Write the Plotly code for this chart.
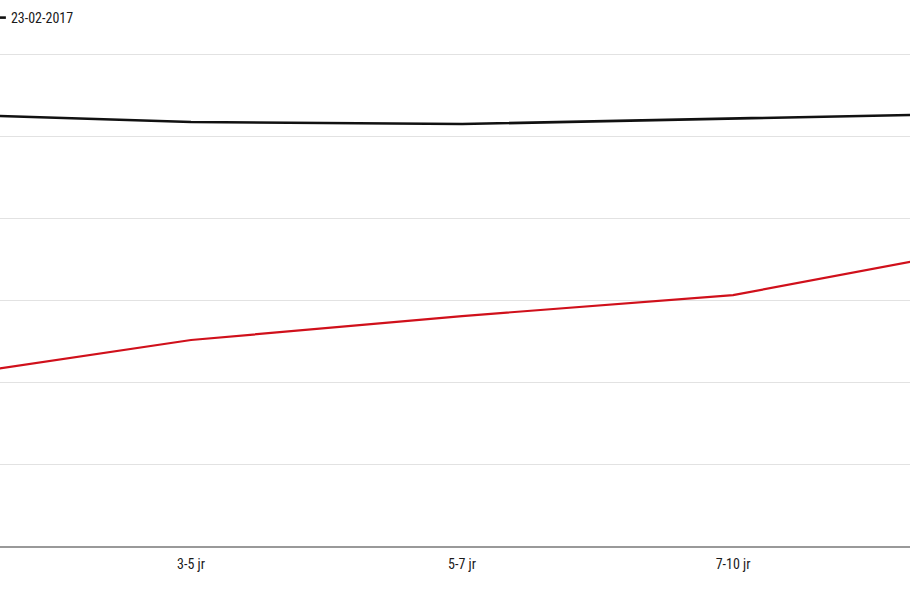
import plotly.graph_objects as go

categories = ["1-3 jr", "3-5 jr", "5-7 jr", "7-10 jr", "10+ jr"]
series_red = [1.01, 1.256, 1.402, 1.530, 1.84]
series_black = [2.638, 2.585, 2.573, 2.604, 2.640]
legend_label = "23-02-2017"
y_ticks = [0, 0.5, 1.0, 1.5, 2.0, 2.5, 3.0]

FONT = "Roboto Condensed, Liberation Sans Narrow, DejaVu Sans Condensed, Arial Narrow, sans-serif"

fig = go.Figure()
fig.add_trace(go.Scatter(
    x=categories, y=series_red, mode="lines", name="vorige",
    line=dict(color="#d0101b", width=2.2), showlegend=False,
))
fig.add_trace(go.Scatter(
    x=categories, y=series_black, mode="lines", name=legend_label,
    line=dict(color="#111111", width=2.6), showlegend=True,
))

fig.update_layout(
    width=910, height=596,
    paper_bgcolor="white", plot_bgcolor="white",
    margin=dict(l=0, r=0, t=50, b=50, autoexpand=False),
    font=dict(family=FONT, size=14, color="#1a1a1a"),
    legend=dict(
        x=-0.032, xanchor="left", y=1 + 48 / 496, yanchor="top",
        orientation="h",
        font=dict(family=FONT, size=14, color="#1a1a1a"),
        bgcolor="rgba(0,0,0,0)", itemwidth=30,
    ),
    xaxis=dict(
        type="category", range=[0.295, 3.653],
        showgrid=False, zeroline=False,
        showline=True, linecolor="#999999", linewidth=2,
        ticks="", ticklabelstandoff=4,
        tickfont=dict(family=FONT, size=14, color="#1a1a1a"),
    ),
    yaxis=dict(
        range=[0, 3.0244], tickvals=y_ticks, showticklabels=False,
        showgrid=True, gridcolor="#e2e2e2", gridwidth=1,
        zeroline=False, showline=False,
    ),
)

fig.write_html(
    "out.html",
    config={"displayModeBar": False},
    post_script="document.body.style.margin='0';",
)
